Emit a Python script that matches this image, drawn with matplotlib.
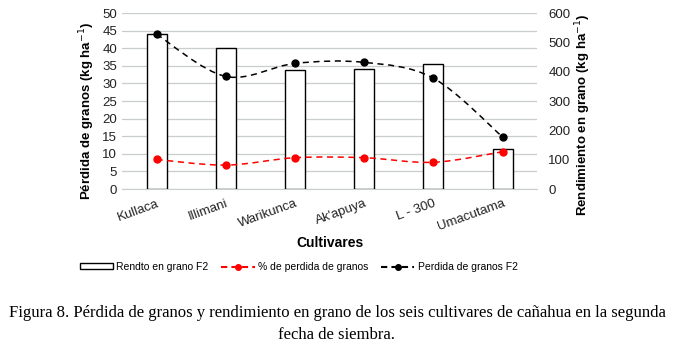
import numpy as np
import matplotlib
matplotlib.use('Agg')
import matplotlib.pyplot as plt
from matplotlib.path import Path
from matplotlib.patches import PathPatch, Rectangle
from matplotlib.lines import Line2D

cultivares = ['Kullaca', 'Illimani', 'Warikunca', "Ak'apuya", 'L - 300', 'Umacutama']
rendto = [530, 480, 405, 408, 426, 138]          # kg/ha, eje derecho
perdida = [44.0, 32.0, 35.7, 36.0, 31.5, 14.8]   # kg/ha, eje izquierdo
pct_perdida = [8.4, 6.8, 8.9, 8.9, 7.6, 10.6]     # %, eje izquierdo

plt.rcParams['font.family'] = ['Liberation Sans', 'DejaVu Sans']
grid_col = '#c8cfc8'


def smooth_path(x, y):
    # curva suave tipo Excel (bezier entre puntos)
    x = np.asarray(x, float); y = np.asarray(y, float)
    verts = [(x[0], y[0])]; codes = [Path.MOVETO]
    n = len(x)
    for i in range(n - 1):
        p0 = np.array([x[max(i - 1, 0)], y[max(i - 1, 0)]])
        p1 = np.array([x[i], y[i]])
        p2 = np.array([x[i + 1], y[i + 1]])
        p3 = np.array([x[min(i + 2, n - 1)], y[min(i + 2, n - 1)]])
        c1 = p1 + (p2 - p0) / 6
        c2 = p2 - (p3 - p1) / 6
        verts += [tuple(c1), tuple(c2), tuple(p2)]
        codes += [Path.CURVE4] * 3
    return Path(verts, codes)


fig = plt.figure(figsize=(6.74, 3.54), dpi=100)
ax = fig.add_axes([0.181, 0.466, 0.616, 0.497])
ax2 = ax.twinx()
x = np.arange(len(cultivares))

# eje izquierdo: cuadricula
ax.set_ylim(0, 50)
ax.set_xlim(-0.5, 5.5)
ax.set_yticks(range(0, 51, 5))
ax.yaxis.grid(True, color=grid_col, linewidth=0.9)
ax.set_axisbelow(True)

# eje derecho: barras y lineas encima
ax2.patch.set_visible(False)
ax2.bar(x, rendto, width=0.29, facecolor='white', edgecolor='black', linewidth=1.0, zorder=2)
ax2.set_ylim(0, 600)
ax2.set_yticks(range(0, 601, 100))

for data, col in [(perdida, 'black'), (pct_perdida, 'red')]:
    ax2.add_patch(PathPatch(smooth_path(x, data), facecolor='none', edgecolor=col,
                            linestyle=(0, (4, 3)), linewidth=1.1, zorder=3,
                            transform=ax.transData))
    ax2.plot(x, data, 'o', color=col, markersize=5, zorder=4, transform=ax.transData)

for a in (ax, ax2):
    for s in a.spines.values():
        s.set_visible(False)
    a.tick_params(length=0, labelsize=9.5, colors='#222222')
ax.spines['bottom'].set_visible(True)
ax.spines['bottom'].set_color(grid_col)
ax2.tick_params(axis='y', pad=8)

ax.set_xticks(x)
ax.set_xticklabels(cultivares, rotation=20, ha='right', rotation_mode='anchor')
ax.tick_params(axis='x', pad=6)
ax.set_ylabel('Pérdida de granos (kg ha$^{-1}$)', fontsize=9.5, fontweight='bold', va='center')
ax.yaxis.set_label_coords(-0.084, 0.443)
ax2.set_ylabel('Rendimiento en grano (kg ha$^{-1}$)', fontsize=9.5, fontweight='bold', va='center')
ax2.yaxis.set_label_coords(1.111, 0.42)
ax.set_xlabel('Cultivares', fontsize=10, fontweight='bold', labelpad=2)

handles = [Rectangle((0, 0), 1, 1, facecolor='white', edgecolor='black', linewidth=1),
           Line2D([], [], color='red', linestyle=(0, (3, 2)), marker='o', markersize=4),
           Line2D([], [], color='black', linestyle=(0, (3, 2)), marker='o', markersize=4)]
fig.legend(handles, ['Rendto en grano F2', '% de perdida de granos', 'Perdida de granos F2'],
           loc='center', bbox_to_anchor=(0.443, 0.246), ncol=3, frameon=False, fontsize=7.5,
           handlelength=3.2, handleheight=0.5, columnspacing=1.25, handletextpad=0.3)

fig.text(0.5, 0.115, 'Figura 8. Pérdida de granos y rendimiento en grano de los seis cultivares de cañahua en la segunda',
         ha='center', va='center', fontsize=12, family='Liberation Serif')
fig.text(0.5, 0.055, 'fecha de siembra.', ha='center', va='center', fontsize=12, family='Liberation Serif')

fig.savefig('out.png', dpi=100)
